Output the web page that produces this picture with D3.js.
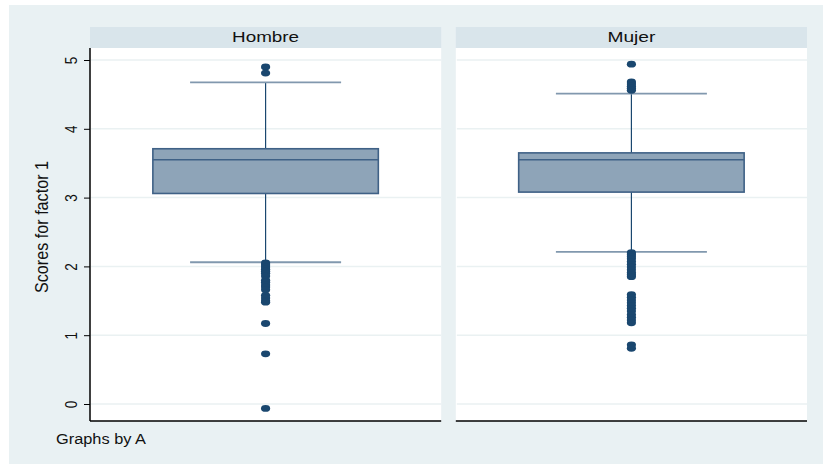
<!DOCTYPE html>
<html>
<head>
<meta charset="utf-8">
<script src="https://cdn.jsdelivr.net/npm/d3@7"></script>
<style>
  html, body { margin: 0; padding: 0; background: #ffffff; }
  svg { display: block; font-family: "Liberation Sans", Arial, sans-serif; }
</style>
</head>
<body>
<svg id="chart" width="823" height="464"></svg>
<script>
// Box plot summaries of "Scores for factor 1", one panel per group of A
const groups = ["Hombre", "Mujer"];
const q1 = [3.06, 3.08];
const medians = [3.55, 3.55];
const q3 = [3.71, 3.65];
const whiskerLow = [2.06, 2.21];
const whiskerHigh = [4.675, 4.51];
const outliersHombre = [4.90, 4.81,
  2.05, 2.02, 1.99, 1.96, 1.93, 1.90, 1.86, 1.80, 1.77, 1.73, 1.70, 1.66,
  1.58, 1.54, 1.50, 1.48, 1.17, 0.73, -0.065];
const outliersMujer = [4.94, 4.68, 4.65, 4.62, 4.59, 4.56,
  2.20, 2.17, 2.14, 2.11, 2.07, 2.03, 1.99, 1.95, 1.91, 1.88, 1.85,
  1.59, 1.55, 1.51, 1.47, 1.43, 1.39, 1.35, 1.30, 1.26, 1.22, 1.18,
  0.86, 0.81];
const outliers = [outliersHombre, outliersMujer];
const yTicks = [0, 1, 2, 3, 4, 5];
const yTitle = "Scores for factor 1";
const note = "Graphs by A";

const svg = d3.select("#chart");
const W = 823, H = 464;
const plotTop = 48, plotBottom = 421, stripTop = 27;

// Outer graph region
svg.append("rect").attr("x", 9).attr("y", 5).attr("width", W - 9).attr("height", H - 5)
  .attr("fill", "#e9f1f3");

const panel = d3.scaleBand().domain(groups).range([90, 807]).paddingInner(0.04);
const bw = panel.bandwidth();
const y = d3.scaleLinear().domain([0, 5]).range([404, 60]);

groups.forEach((g, i) => {
  const x0 = panel(g);
  const cx = x0 + bw / 2;
  const gEl = svg.append("g");

  // strip header
  gEl.append("rect").attr("x", x0).attr("y", stripTop).attr("width", bw).attr("height", plotTop - stripTop)
    .attr("fill", "#d9e5eb");
  gEl.append("text").attr("x", cx).attr("y", 42).attr("text-anchor", "middle")
    .attr("font-size", 15).attr("fill", "#111")
    .attr("textLength", g === "Hombre" ? 67 : 48).attr("lengthAdjust", "spacingAndGlyphs")
    .text(g);

  // plot area
  gEl.append("rect").attr("x", x0).attr("y", plotTop).attr("width", bw).attr("height", plotBottom - plotTop)
    .attr("fill", "#ffffff");

  // gridlines
  gEl.selectAll("line.grid").data(yTicks).join("line")
    .attr("x1", x0 + 1).attr("x2", x0 + bw)
    .attr("y1", d => y(d)).attr("y2", d => y(d))
    .attr("stroke", "#eaf1f2").attr("stroke-width", 1.5);

  // whisker stem
  gEl.append("line").attr("x1", cx).attr("x2", cx)
    .attr("y1", y(whiskerHigh[i])).attr("y2", y(whiskerLow[i]))
    .attr("stroke", "#1a476f").attr("stroke-width", 1.2);

  // whisker caps
  const capHalf = bw * 0.215;
  [whiskerLow[i], whiskerHigh[i]].forEach(v => {
    gEl.append("line").attr("x1", cx - capHalf).attr("x2", cx + capHalf)
      .attr("y1", y(v)).attr("y2", y(v))
      .attr("stroke", "#8198ae").attr("stroke-width", 1.8);
  });

  // box
  const boxHalf = bw * 0.321;
  gEl.append("rect").attr("x", cx - boxHalf).attr("width", boxHalf * 2)
    .attr("y", y(q3[i])).attr("height", y(q1[i]) - y(q3[i]))
    .attr("fill", "#8ea4b8").attr("stroke", "#3f6186").attr("stroke-width", 1.6);
  gEl.append("line").attr("x1", cx - boxHalf).attr("x2", cx + boxHalf)
    .attr("y1", y(medians[i])).attr("y2", y(medians[i]))
    .attr("stroke", "#3f6186").attr("stroke-width", 1.6);

  // outside values
  gEl.selectAll("ellipse.out").data(outliers[i]).join("ellipse")
    .attr("cx", cx).attr("cy", d => y(d)).attr("rx", 4.6).attr("ry", 3.4)
    .attr("fill", "#1a476f");

  // bottom axis line
  gEl.append("line").attr("x1", x0).attr("x2", x0 + bw)
    .attr("y1", plotBottom).attr("y2", plotBottom)
    .attr("stroke", "#000").attr("stroke-width", 1.5);
});

// y axis on the first panel
const axisX = panel(groups[0]);
const axis = svg.append("g").attr("transform", `translate(${axisX},0)`)
  .call(d3.axisLeft(y).tickValues(yTicks).tickFormat(d3.format("d"))
    .tickSize(6).tickSizeOuter(0).tickPadding(14));
axis.select(".domain").attr("d", `M0,${plotTop}V${plotBottom}`).attr("stroke", "#000").attr("stroke-width", 1.5);
axis.selectAll(".tick line").attr("stroke", "#000");
axis.selectAll(".tick text")
  .attr("x", null).attr("dy", null).attr("text-anchor", "middle")
  .attr("font-size", 13.5).attr("fill", "#111")
  .attr("transform", "translate(-18.5,0) scale(1.2,1) rotate(-90) translate(0,4.6)");

// y axis title
svg.append("text")
  .attr("transform", `translate(48,227) scale(1.15,1) rotate(-90)`)
  .attr("text-anchor", "middle").attr("font-size", 15.5).attr("fill", "#111")
  .attr("textLength", 132).attr("lengthAdjust", "spacingAndGlyphs")
  .text(yTitle);

// note
svg.append("text").attr("x", 56).attr("y", 444).attr("font-size", 14).attr("fill", "#111")
  .attr("textLength", 90).attr("lengthAdjust", "spacingAndGlyphs")
  .text(note);
</script>
</body>
</html>
